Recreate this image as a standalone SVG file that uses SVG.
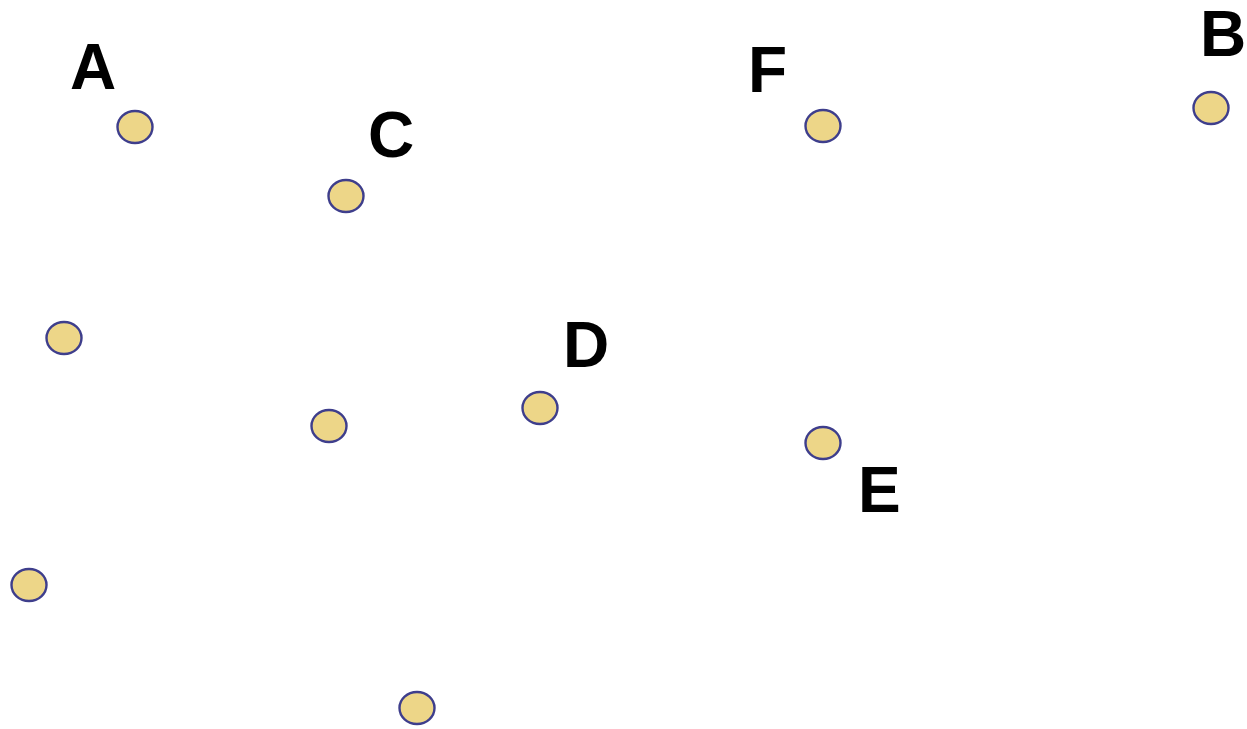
<svg xmlns="http://www.w3.org/2000/svg" width="1247" height="729" viewBox="0 0 1247 729">
<style>
.n{fill:#EDD688;stroke:#3E3E8C;stroke-width:2.4}
.l{font-family:"Liberation Sans",Arial,sans-serif;font-weight:bold;font-size:64px;fill:#000}
</style>
<rect width="1247" height="729" fill="#fff"/>
<g id="connectors"></g>
<g id="nodeA"><ellipse class="n" cx="135" cy="127" rx="17.5" ry="16"/><text class="l" x="70" y="89">A</text></g>
<g id="nodeC"><ellipse class="n" cx="346" cy="196" rx="17.5" ry="16"/><text class="l" x="368" y="157">C</text></g>
<g id="nodeF"><ellipse class="n" cx="823" cy="126" rx="17.5" ry="16"/><text class="l" x="748" y="92">F</text></g>
<g id="nodeB"><ellipse class="n" cx="1211" cy="108" rx="17.5" ry="16"/><text class="l" x="1200" y="56">B</text></g>
<g id="node1"><ellipse class="n" cx="64" cy="338" rx="17.5" ry="16"/></g>
<g id="node2"><ellipse class="n" cx="329" cy="426" rx="17.5" ry="16"/></g>
<g id="nodeD"><ellipse class="n" cx="540" cy="408" rx="17.5" ry="16"/><text class="l" x="563" y="367">D</text></g>
<g id="nodeE"><ellipse class="n" cx="823" cy="443" rx="17.5" ry="16"/><text class="l" x="858" y="512">E</text></g>
<g id="node3"><ellipse class="n" cx="29" cy="585" rx="17.5" ry="16"/></g>
<g id="node4"><ellipse class="n" cx="417" cy="708" rx="17.5" ry="16"/></g>
</svg>
